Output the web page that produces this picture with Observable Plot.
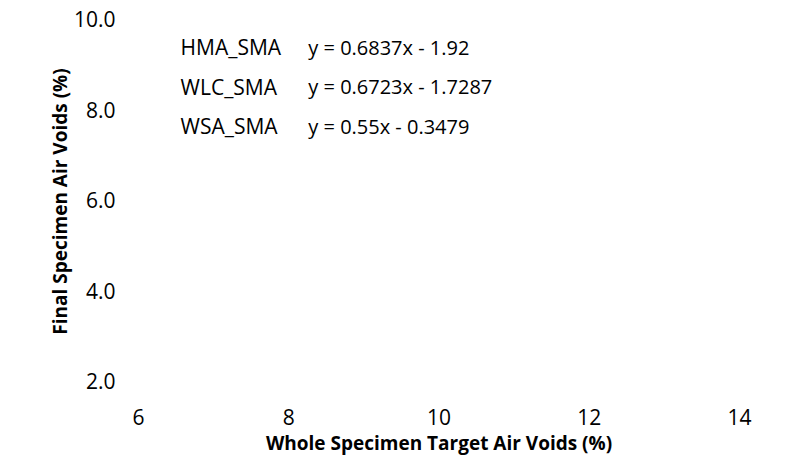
<!DOCTYPE html>
<html><head><meta charset="utf-8">
<script src="https://cdn.jsdelivr.net/npm/d3@7"></script>
<script src="https://cdn.jsdelivr.net/npm/@observablehq/plot@0.6"></script>
<style>body{margin:0;background:#fff}</style>
</head><body><div id="chart"></div>
<script>
const xTicks = [6, 8, 10, 12, 14];
const yTicks = [2, 4, 6, 8, 10];
const series = ["HMA_SMA", "WLC_SMA", "WSA_SMA"];
const equations = ["y = 0.6837x - 1.92", "y = 0.6723x - 1.7287", "y = 0.55x - 0.3479"];
const xTitle = "Whole Specimen Target Air Voids (%)";
const yTitle = "Final Specimen Air Voids (%)";

const FONT = "Open Sans";
const FS = 21;
const ES = 20;
const TS = 19;
const labels = series.map((s, i) => ({name: s, eq: equations[i], row: i}));
// label layout (data-space anchor for the trendline equation legend)
const nameX = 6.56, eqX = 8.26, rowY = i => 9.38 - i * 0.87;

const chart = Plot.plot({
  width: 804,
  height: 474,
  marginLeft: 138,
  marginRight: 65,
  marginTop: 20,
  marginBottom: 92,
  style: {fontFamily: FONT, background: "#fff", color: "#000"},
  x: {domain: [6, 14]},
  y: {domain: [2, 10]},
  marks: [
    Plot.axisX({ticks: xTicks, tickSize: 0, tickPadding: 28, fontSize: FS, label: null, tickFormat: d3.format("d")}),
    Plot.axisY({ticks: yTicks, tickSize: 0, tickPadding: 23, fontSize: FS, label: null, tickFormat: d3.format(".1f")}),
    Plot.text(labels, {x: () => nameX, y: d => rowY(d.row), text: "name", textAnchor: "start", fontSize: FS, fill: "#000"}),
    Plot.text(labels, {x: () => eqX, y: d => rowY(d.row), text: "eq", textAnchor: "start", fontSize: ES, fill: "#000"}),
    Plot.text([xTitle], {frameAnchor: "bottom", textAnchor: "middle", text: d => d, dy: 67, fontSize: TS, fontWeight: "bold", fill: "#000"}),
    Plot.text([yTitle], {frameAnchor: "left", textAnchor: "middle", text: d => d, rotate: -90, dx: -78, fontSize: TS, fontWeight: "bold", fill: "#000"})
  ]
});
document.getElementById("chart").append(chart);
</script>
</body></html>
